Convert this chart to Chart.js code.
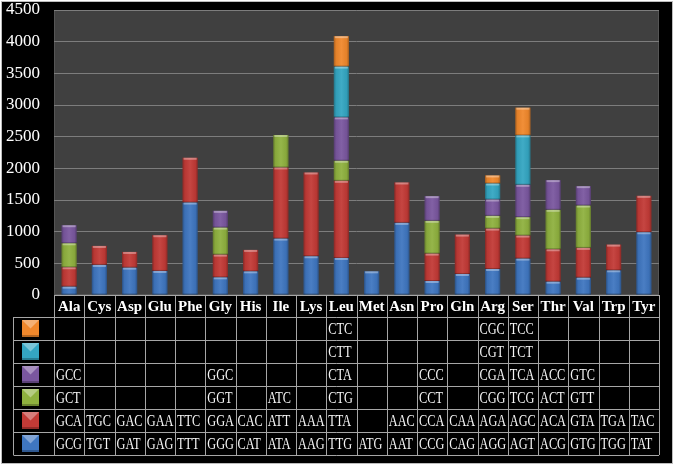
<!DOCTYPE html>
<html>
<head>
<meta charset="utf-8">
<script src="https://cdn.jsdelivr.net/npm/chart.js@4"></script>
<style>
  html, body { margin: 0; padding: 0; background: #fff; }
  #wrap { width: 675px; height: 468px; }
</style>
</head>
<body>
<div id="wrap"><canvas id="chart"></canvas></div>
<script>
// amino acids on the x axis
const aminoAcids = ["Ala","Cys","Asp","Glu","Phe","Gly","His","Ile","Lys","Leu","Met","Asn","Pro","Gln","Arg","Ser","Thr","Val","Trp","Tyr"];

// codon names, one array per stack level (bottom to top)
const codon1 = ["GCG","TGT","GAT","GAG","TTT","GGG","CAT","ATA","AAG","TTG","ATG","AAT","CCG","CAG","AGG","AGT","ACG","GTG","TGG","TAT"];
const codon2 = ["GCA","TGC","GAC","GAA","TTC","GGA","CAC","ATT","AAA","TTA","","AAC","CCA","CAA","AGA","AGC","ACA","GTA","TGA","TAC"];
const codon3 = ["GCT","","","","","GGT","","ATC","","CTG","","","CCT","","CGG","TCG","ACT","GTT","",""];
const codon4 = ["GCC","","","","","GGC","","","","CTA","","","CCC","","CGA","TCA","ACC","GTC","",""];
const codon5 = ["","","","","","","","","","CTT","","","","","CGT","TCT","","","",""];
const codon6 = ["","","","","","","","","","CTC","","","","","CGC","TCC","","","",""];

// codon counts, same order
const count1 = [132,475,432,380,1460,279,374,891,612,585,374,1139,221,332,411,575,211,274,390,991];
const count2 = [306,300,248,564,707,359,338,1123,1323,1218,null,638,433,622,638,364,511,470,406,575];
const count3 = [379,null,null,null,null,427,null,512,null,317,null,null,517,null,201,290,623,669,null,null];
const count4 = [285,null,null,null,null,264,null,null,null,685,null,null,390,null,258,511,469,306,null,null];
const count5 = [null,null,null,null,null,null,null,null,null,802,null,null,null,null,253,781,null,null,null,null];
const count6 = [null,null,null,null,null,null,null,null,null,480,null,null,null,null,127,437,null,null,null,null];

const colors = ["#3f76c0","#c23a36","#8fb13f","#7a579f","#34a6c2","#f0882c"];
const codons = [codon1, codon2, codon3, codon4, codon5, codon6];
const counts = [count1, count2, count3, count4, count5, count6];

const FONT = "'Liberation Serif', 'Times New Roman', serif";

// black panel, plot background
const backgroundPlugin = {
  id: "bg",
  beforeDraw(chart) {
    const ctx = chart.ctx;
    const a = chart.chartArea;
    ctx.save();
    ctx.fillStyle = "#fff";
    ctx.fillRect(0, 0, chart.width, chart.height);
    ctx.fillStyle = "#000";
    ctx.fillRect(1, 1, 671, 462);
    ctx.strokeStyle = "#bdbdbd";
    ctx.lineWidth = 1;
    ctx.strokeRect(1.5, 1.5, 671, 462);
    ctx.fillStyle = "#404040";
    ctx.fillRect(a.left, a.top, a.right - a.left, a.bottom - a.top);
    ctx.strokeStyle = "#555";
    ctx.strokeRect(a.left + 0.5, a.top + 0.5, a.right - a.left - 1, a.bottom - a.top - 1);
    ctx.restore();
  }
};

// bevel shading on each bar segment
const bevelPlugin = {
  id: "bevel",
  afterDatasetsDraw(chart) {
    const ctx = chart.ctx;
    ctx.save();
    chart.data.datasets.forEach((ds, di) => {
      const meta = chart.getDatasetMeta(di);
      meta.data.forEach((el, i) => {
        if (ds.data[i] == null) return;
        const p = el.getProps(["x", "y", "base", "width"], true);
        const l = p.x - p.width / 2, w = p.width, t = p.y, h = p.base - p.y;
        const g = ctx.createLinearGradient(l, 0, l + w, 0);
        g.addColorStop(0, "rgba(0,0,0,0.3)");
        g.addColorStop(0.15, "rgba(0,0,0,0.05)");
        g.addColorStop(0.5, "rgba(255,255,255,0.06)");
        g.addColorStop(0.85, "rgba(0,0,0,0.05)");
        g.addColorStop(1, "rgba(0,0,0,0.3)");
        ctx.fillStyle = g;
        ctx.fillRect(l, t, w, h);
        ctx.fillStyle = "rgba(255,255,255,0.35)";
        ctx.fillRect(l + 1, t, w - 2, 2);
        ctx.fillStyle = "rgba(0,0,0,0.25)";
        ctx.fillRect(l, p.base - 1, w, 1);
      });
    });
    ctx.restore();
  }
};

// data table under the axis
const tablePlugin = {
  id: "codonTable",
  afterDraw(chart) {
    const ctx = chart.ctx;
    const xs = chart.scales.x;
    const a = chart.chartArea;
    const colW = (a.right - a.left) / aminoAcids.length;
    const rowH = 23;
    const top = xs.bottom;
    const keyLeft = 13.5;
    const nRows = codons.length;
    ctx.save();
    ctx.strokeStyle = "#a6a6a6";
    ctx.lineWidth = 1;
    // header row cells
    ctx.beginPath();
    ctx.moveTo(a.left, Math.round(xs.top) + 0.5);
    ctx.lineTo(a.right, Math.round(xs.top) + 0.5);
    for (let i = 0; i <= aminoAcids.length; i++) {
      const x = Math.round(xs.getPixelForTick(Math.min(i, aminoAcids.length - 1)) + (i === aminoAcids.length ? colW / 2 : -colW / 2)) + 0.5;
      ctx.moveTo(x, xs.top);
      ctx.lineTo(x, top + rowH * nRows);
    }
    // body rows
    for (let r = 0; r <= nRows; r++) {
      const y = Math.round(top + r * rowH) + 0.5;
      ctx.moveTo(keyLeft, y);
      ctx.lineTo(a.right, y);
    }
    ctx.moveTo(keyLeft, top);
    ctx.lineTo(keyLeft, top + rowH * nRows);
    ctx.stroke();

    // rows listed top to bottom: highest stack level first
    for (let r = 0; r < nRows; r++) {
      const level = nRows - 1 - r;
      const cy = top + r * rowH + rowH / 2;
      // legend key
      const k = 17, kx = 22, ky = cy - k / 2;
      ctx.fillStyle = colors[level];
      ctx.fillRect(kx, ky, k, k);
      ctx.fillStyle = "rgba(255,255,255,0.35)";
      ctx.beginPath();
      ctx.moveTo(kx, ky);
      ctx.lineTo(kx + k, ky);
      ctx.lineTo(kx + k / 2, ky + k / 2);
      ctx.closePath();
      ctx.fill();
      ctx.fillStyle = "rgba(0,0,0,0.25)";
      ctx.fillRect(kx, ky + k - 2, k, 2);
      // codon names
      ctx.fillStyle = "#f5f5f5";
      ctx.font = "16px " + FONT;
      ctx.textBaseline = "middle";
      codons[level].forEach((c, i) => {
        if (!c) return;
        const x = xs.getPixelForTick(i) - colW / 2 + 2;
        ctx.save();
        ctx.translate(x, cy + 1);
        ctx.scale(0.77, 1);
        ctx.fillText(c, 0, 0);
        ctx.restore();
      });
    }
    ctx.restore();
  }
};

new Chart(document.getElementById("chart"), {
  type: "bar",
  data: {
    labels: aminoAcids,
    datasets: counts.map((vals, i) => ({
      label: "codon " + (i + 1),
      data: vals,
      backgroundColor: colors[i],
      borderWidth: 0,
      barPercentage: 1,
      categoryPercentage: 0.5
    }))
  },
  options: {
    responsive: true,
    maintainAspectRatio: false,
    animation: false,
    layout: { padding: { top: 10, right: 16, bottom: 151, left: 0 } },
    plugins: {
      legend: { display: false },
      tooltip: { enabled: false }
    },
    scales: {
      x: {
        stacked: true,
        grid: { display: false, drawTicks: false },
        border: { display: false },
        ticks: {
          color: "#ffffff",
          padding: 3,
          maxRotation: 0,
          font: { family: FONT, size: 15, weight: "bold" }
        },
        afterFit(s) { s.height = 22; s.paddingLeft = 0; s.paddingRight = 0; }
      },
      y: {
        stacked: true,
        min: 0,
        max: 4500,
        grid: { color: "#7d7d7d", drawTicks: false },
        border: { display: false },
        ticks: {
          stepSize: 500,
          color: "#ffffff",
          padding: 14,
          font: { family: FONT, size: 17 },
          callback: v => String(v)
        },
        afterFit(s) { s.width = 54; s.paddingTop = 0; s.paddingBottom = 0; }
      }
    }
  },
  plugins: [backgroundPlugin, bevelPlugin, tablePlugin]
});
</script>
</body>
</html>
